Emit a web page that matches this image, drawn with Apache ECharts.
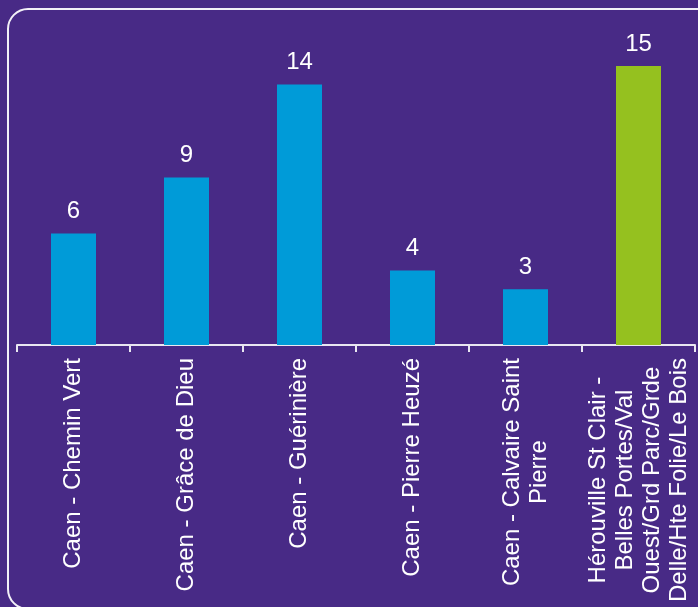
<!DOCTYPE html>
<html>
<head>
<meta charset="utf-8">
<script src="https://cdn.jsdelivr.net/npm/echarts@6/dist/echarts.min.js"></script>
<style>
html,body{margin:0;padding:0;background:#482a86;}
#c{width:698px;height:607px;}
</style>
</head>
<body>
<div id="c"></div>
<script>
const categories = [
  "Caen - Chemin Vert",
  "Caen - Grâce de Dieu",
  "Caen - Guérinière",
  "Caen - Pierre Heuzé",
  "Caen - Calvaire Saint\nPierre",
  "Hérouville St Clair -\nBelles Portes/Val\nOuest/Grd Parc/Grde\nDelle/Hte Folie/Le Bois"
];
const values = [6, 9, 14, 4, 3, 15];
const barColors = ["#009bd8", "#009bd8", "#009bd8", "#009bd8", "#009bd8", "#95c11f"];

const chart = echarts.init(document.getElementById('c'), null, {renderer: 'canvas'});
const font = 'Liberation Sans, Arial, sans-serif';
chart.setOption({
  backgroundColor: '#482a86',
  animation: false,
  graphic: [{
    type: 'rect',
    shape: {x: 8, y: 9, width: 720, height: 600, r: 20},
    style: {fill: 'none', stroke: '#f2f0f7', lineWidth: 2},
    silent: true,
    z: 0
  }],
  grid: {left: 17, right: 3, top: 66, bottom: 262, containLabel: false},
  xAxis: {
    type: 'category',
    data: categories,
    axisLine: {show: true, lineStyle: {color: '#e9e7f1', width: 2}},
    axisTick: {show: true, alignWithLabel: false, length: 7, lineStyle: {color: '#e9e7f1', width: 2}},
    axisLabel: {
      interval: 0,
      rotate: 90,
      margin: 13,
      color: '#ffffff',
      fontFamily: font,
      fontSize: 24,
      lineHeight: 27,
      formatter: function (v) {
        return v.split('\n').map(function (l) { return '{c|' + l + '}'; }).join('\n');
      },
      rich: {
        c: {align: 'center', color: '#ffffff', fontFamily: font, fontSize: 24, lineHeight: 27}
      }
    }
  },
  yAxis: {
    type: 'value',
    min: 0,
    max: 15,
    show: false,
    splitLine: {show: false}
  },
  series: [{
    type: 'bar',
    data: values.map(function (v, i) { return {value: v, itemStyle: {color: barColors[i]}}; }),
    barWidth: 45,
    label: {
      show: true,
      position: 'top',
      distance: 10,
      color: '#ffffff',
      fontFamily: font,
      fontSize: 24
    }
  }]
});
</script>
</body>
</html>
